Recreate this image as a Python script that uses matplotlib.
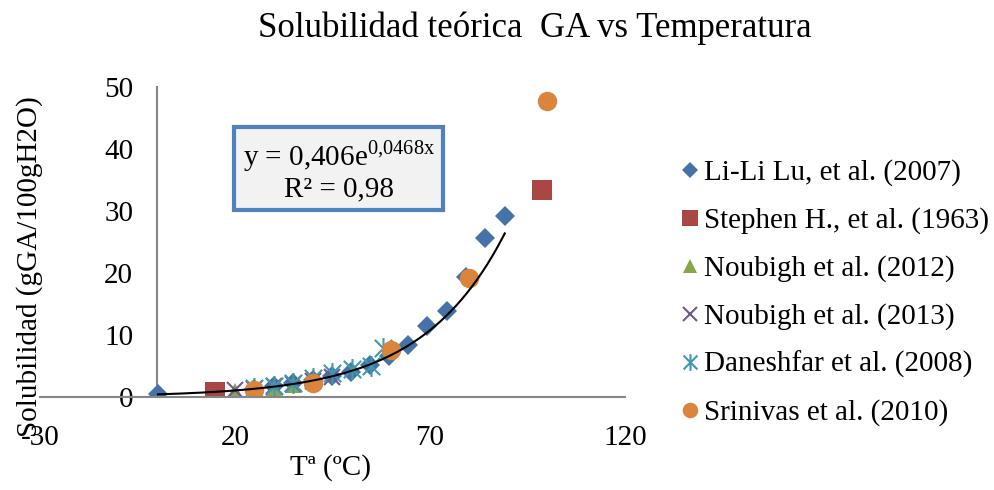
import numpy as np
import matplotlib
matplotlib.use('Agg')
import matplotlib.pyplot as plt
from matplotlib.path import Path

plt.rcParams['font.family'] = ['Liberation Serif', 'DejaVu Serif']
plt.rcParams['mathtext.fontset'] = 'custom'
plt.rcParams['mathtext.rm'] = 'Liberation Serif'

# Data (T in ºC, solubility in gGA/100gH2O)
lu_t = [0.3, 25, 30, 35, 40, 44.8, 49.7, 54.6, 59.5, 64.5, 69.4, 74.3, 79.2, 84.2, 89.2]
lu_s = [0.5, 1.3, 1.7, 2.2, 2.8, 3.3, 4.1, 5.1, 6.6, 8.4, 11.5, 13.8, 19.4, 25.6, 29.2]
stephen_t = [15, 98.7]
stephen_s = [0.8, 33.4]
noub12_t = [20, 25, 30, 35, 40]
noub12_s = [0.9, 1.2, 1.5, 1.9, 2.4]
noub13_t = [20, 25, 30, 35, 40, 45]
noub13_s = [1.1, 1.3, 1.7, 2.1, 2.6, 3.2]
dane_t = [25, 30, 35, 40, 45, 50, 55, 58]
dane_s = [1.4, 1.7, 2.3, 3.0, 3.9, 4.5, 5.0, 7.9]
srin_t = [25, 40, 60, 80, 100]
srin_s = [1.1, 2.3, 7.6, 19.2, 47.7]

# exponential trendline y = a*exp(b*x)
fit_a = 0.406
fit_b = 0.0468

x_ticks = [-30, 20, 70, 120]
x_labels = ['-30', '20', '70', '120']
y_ticks = [0, 10, 20, 30, 40, 50]

# Excel-style star marker: x with a vertical bar
star = Path([(-0.5, -0.5), (0.5, 0.5), (-0.5, 0.5), (0.5, -0.5), (0, -0.6), (0, 0.6)],
            [Path.MOVETO, Path.LINETO, Path.MOVETO, Path.LINETO, Path.MOVETO, Path.LINETO])

fig = plt.figure(figsize=(9.95, 4.9), dpi=100)
ax = fig.add_axes([0.040, 0.190, 0.588, 0.632])

ax.plot(lu_t, lu_s, 'D', color='#4572a7', ms=10, mew=0, label='Li-Li Lu, et al. (2007)')
ax.plot(stephen_t, stephen_s, 's', color='#aa4643', ms=14, mew=0, label='Stephen H., et al. (1963)')
ax.plot(noub12_t, noub12_s, '^', color='#89a54e', ms=12, mew=0, label='Noubigh et al. (2012)')
ax.plot(noub13_t, noub13_s, 'x', color='#71588f', ms=12, mew=1.5, label='Noubigh et al. (2013)')
ax.plot(dane_t, dane_s, marker=star, ls='none', color='#4198af', ms=15, mew=1.5,
        label='Daneshfar et al. (2008)')
ax.plot(srin_t, srin_s, 'o', color='#db843d', ms=14, mew=0, label='Srinivas et al. (2010)')

xs = np.linspace(min(lu_t), max(lu_t), 200)
ax.plot(xs, fit_a * np.exp(fit_b * xs), color='black', lw=1.5, zorder=5)

ax.set_xlim(-30, 120)
ax.set_ylim(0, 50)
ax.set_xticks(x_ticks)
ax.set_xticklabels(x_labels)
ax.set_yticks(y_ticks)
for s in ['top', 'right']:
    ax.spines[s].set_visible(False)
ax.spines['left'].set_position(('data', 0))
ax.spines['bottom'].set_position(('data', 0))
for s in ['left', 'bottom']:
    ax.spines[s].set_color('#868686')
    ax.spines[s].set_linewidth(1.5)
ax.spines['left'].set_zorder(0.5)
ax.tick_params(axis='both', length=0, labelsize=21)
ax.tick_params(axis='y', pad=17)
ax.tick_params(axis='x', pad=20)

ax.set_ylabel('Solubilidad (gGA/100gH2O)', fontsize=21)
ax.yaxis.set_label_coords(0.005, 0.42)
fig.text(0.332, 0.045, 'Tª (ºC)', fontsize=21, ha='center', va='center')
fig.text(0.538, 0.943, 'Solubilidad teórica  GA vs Temperatura', fontsize=25,
         ha='center', va='center')

ax.text(0.511, 0.732, 'y = 0,406e$^{\\mathrm{0{,}0468x}}$\nR² = 0,98', transform=ax.transAxes,
        fontsize=21, ha='center', va='center', linespacing=1.1,
        bbox=dict(boxstyle='square,pad=0.28', fc='#f2f2f2', ec='#4f81bd', lw=3))

ax.legend(loc='center left', bbox_to_anchor=(1.0715, 0.336), frameon=False, fontsize=21,
          handlelength=0.6, handletextpad=0.19, labelspacing=0.72, borderpad=0,
          markerscale=0.8)

fig.savefig('out.png', dpi=100)
